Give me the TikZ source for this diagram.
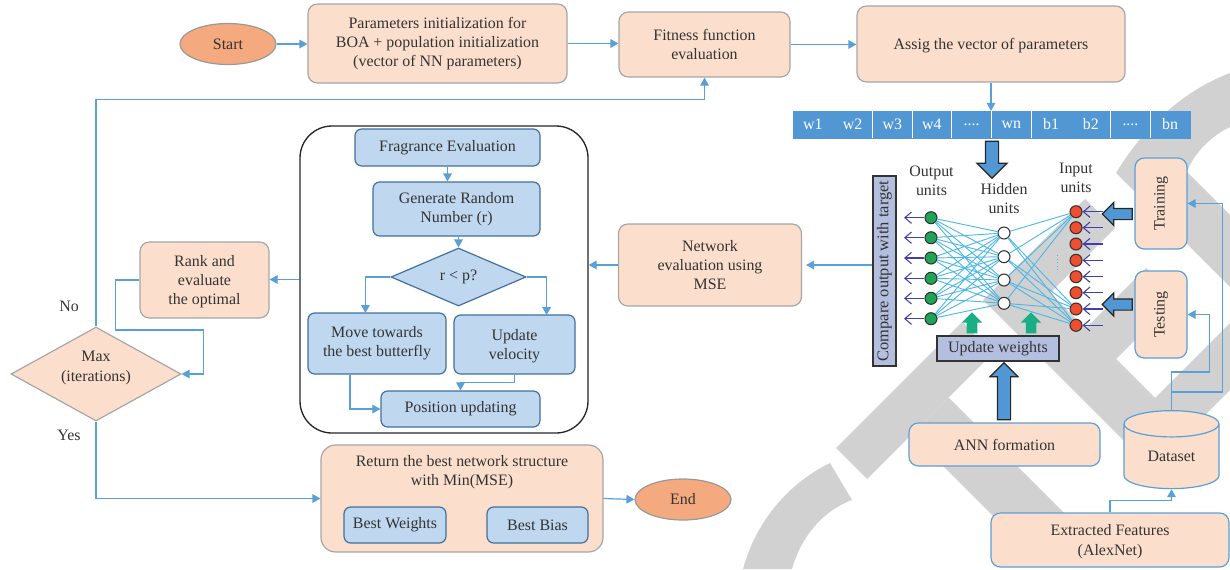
\documentclass[tikz,border=0pt]{standalone}
\usepackage{fontspec}
\setmainfont{Liberation Serif}
\usetikzlibrary{arrows.meta,shapes.geometric,shapes.arrows}
\definecolor{peach}{HTML}{FBDFCC}
\definecolor{orangefill}{HTML}{F4AA7E}
\definecolor{paleblue}{HTML}{BFD8F0}
\definecolor{lineblue}{HTML}{5B9FD8}
\definecolor{barblue}{HTML}{5097D3}
\definecolor{lilac}{HTML}{B4BFE0}
\definecolor{ink}{HTML}{333333}
\definecolor{wireblue}{HTML}{4DB8E6}
\definecolor{liftgreen}{HTML}{1AAE84}
\definecolor{outgreen}{HTML}{1FA354}
\definecolor{inred}{HTML}{F04E2E}
\definecolor{boxedge}{HTML}{41719C}
\newcommand{\fourdots}{.{}.{}.{}.}
\tikzset{
  every node/.style={font=\fontsize{11.95}{14.4}\selectfont, text=ink, align=center, inner sep=0pt},
  sized/.style 2 args={minimum width=#1*0.75pt, minimum height=#2*0.75pt},
  peachbox/.style={draw=black!35, line width=0.9pt, fill=peach, rounded corners=7pt},
  peachline/.style={draw=lineblue, line width=0.9pt, fill=peach, rounded corners=7pt},
  bluebox/.style={draw=boxedge, line width=0.9pt, fill=paleblue, rounded corners=5pt},
  lilacbox/.style={draw=black!80, line width=1pt, fill=lilac},
  terminal/.style={ellipse, draw=black!40, line width=0.9pt, fill=orangefill},
  flow/.style={draw=lineblue, line width=0.9pt, -{Triangle[length=6pt,width=6.5pt]}},
  wire/.style={draw=wireblue, line width=0.7pt},
  feed/.style={draw=blue!55!black!75, line width=0.8pt},
  unit/.style={circle, draw=black!80, line width=0.8pt, minimum size=9pt},
  fat/.style n args={3}{single arrow, draw=black!85, line width=0.9pt, fill=barblue,
    minimum height=#1*0.75pt, minimum width=#2*0.75pt, inner sep=#3*0.375pt,
    single arrow head extend=(#2-#3)*0.375pt},
  lift/.style n args={3}{single arrow, fill=liftgreen, shape border rotate=90,
    minimum height=#1*0.75pt, minimum width=#2*0.75pt, inner sep=#3*0.375pt,
    single arrow head extend=(#2-#3)*0.375pt},
}
\begin{document}
\begin{tikzpicture}[x=0.75pt, y=-0.75pt]
  \useasboundingbox (0,0) rectangle (1230,569);
  % watermark
  \fill[black!18] (836,448) -- (867,479) -- (993,353) -- (962,322) -- cycle;
  \fill[black!18] (1085,199) -- (1115,228) -- (1050,293) -- (1085.5,328.5) -- (1146,268)
     -- (1176.5,298.5) -- (1116,359) -- (1155,398) -- (1230,323) -- (1230,390)
     -- (1151.5,468.5) -- (983,300) -- cycle;
  \fill[black!18] (911.5,434.5) -- (948.5,397.5) -- (1075.5,524.5) -- (1038.5,561.5) -- cycle;
  \fill[black!18] (1116,173) .. controls (1145,125) and (1185,90) .. (1230,73) -- (1230,127)
     .. controls (1215,134) and (1195,150) .. (1187,172) -- (1230,215) -- (1230,287) -- cycle;
  \fill[black!18] (830,463) .. controls (785,485) and (755,525) .. (743,569) -- (792,569)
     .. controls (800,540) and (820,512) .. (852,500) -- cycle;

  % top row
  \node[terminal, sized={96}{41}] (start) at (228,44) {Start};
  \node[peachbox, sized={259}{79}] (params) at (437.5,43.5) {Parameters initialization for\\BOA + population initialization\\(vector of NN parameters)};
  \node[peachbox, sized={171}{65}] (fitness) at (704.5,44.5) {Fitness function\\evaluation};
  \node[peachbox, text depth=0pt, sized={268}{76}] (assig) at (991,44) {Assig the vector of parameters};
  \draw[flow] (start.east) -- (start.east -| params.west);
  \draw[flow] (params.east) -- (params.east -| fitness.west);
  \draw[flow] (fitness.east) -- (fitness.east -| assig.west);

  % parameter vector
  \foreach \lab [count=\i] in {w1,w2,w3,w4,\fourdots,wn,b1,b2,\fourdots,bn}
     {\pgfmathsetmacro{\cx}{793+39.7*(\i-0.5)}
      \node[fill=barblue, draw=barblue, line width=0.2pt, text=white, sized={39.7}{27}] (cell\i) at (\cx,124.5) {\lab};}
  \foreach \i in {2,3,4,5,6,8,9}
     {\draw[white, line width=0.8pt] (cell\i.north east) -- (cell\i.south east);}
  \draw[flow] (assig.south) -- (assig.south |- cell6.north);
  \node[fat={37}{29}{12}, shape border rotate=270] (vecarrow) at (992,156.5) {};

  % network
  \foreach \i/\y in {1/217.7,2/237.7,3/258,4/278.3,5/298.3,6/318.7}
     {\node[unit, fill=outgreen] (out\i) at (931,\y) {};
      \draw[feed, -{Straight Barb[length=5pt,width=8.5pt]}] (out\i) -- ++(-27,0);}
  \foreach \i/\y in {1/233,2/256.7,3/280,4/303.3}
     {\node[unit, fill=white, fill opacity=0.85] (hid\i) at (1004,\y) {};}
  \foreach \i/\y in {1/211.7,2/227.7,3/244,4/260.3,5/276.7,6/292.7,7/309,8/325.3}
     {\node[unit, fill=inred] (inp\i) at (1076,\y) {};
      \draw[feed, {Straight Barb[length=5pt,width=8.5pt]}-] (inp\i) -- ++(27,0);}
  \foreach \i in {1,...,6}
  \foreach \j in {1,...,4}
     {\draw[wire] (out\i) -- (hid\j);}
  \foreach \i in {1,7,8}
  \foreach \j in {1,...,4}
     {\draw[wire] (hid\j) -- (inp\i);}
  \coordinate (dotstop) at (1057,255);
  \coordinate (dotsend) at (1057,273);
  \draw[wire, dotted] (dotstop) -- (dotsend);
  \node (outlabel) at (931.5,181) {Output\\units};
  \node (hidlabel) at (1004,198.5) {Hidden\\units};
  \node (inplabel) at (1076,177.5) {Input\\units};

  \node[lilacbox, rotate=90, font=\fontsize{12.3}{14.4}\selectfont, sized={190}{23}] (compare) at (884.5,271) {Compare output with target};
  \node[lilacbox, sized={122}{25}] (update) at (998,348.5) {Update weights};
  \node[lift={21}{20}{10}] (liftA) at (972,325.5) {};
  \node[lift={21}{20}{10}] (liftB) at (1031,325.5) {};

  \node[peachline, sized={191}{43}] (ann) at (1004.5,444.5) {ANN formation};
  \node[fat={57}{27}{12}, shape border rotate=90] (annarrow) at (1004,394.5) {};
  \node[peachline, rotate=90, sized={91}{52}] (training) at (1161,203.5) {Training};
  \node[peachline, rotate=90, sized={87}{52}] (testing) at (1161,314.5) {Testing};
  \node[fat={30}{22}{10}, shape border rotate=180] (trainarrow) at (1120,214) {};
  \node[fat={30}{22}{10}, shape border rotate=180] (testarrow) at (1120,304.5) {};
  \node[cylinder, shape border rotate=90, aspect=0.55, draw=lineblue, line width=0.9pt, fill=peach,
        sized={95}{78}] (dataset) at (1171.5,456.5) {Dataset};
  \node[peachline, text depth=0pt, sized={238}{54}] (extracted) at (1110,540) {Extracted Features\\(AlexNet)};
  \draw[flow] (extracted.north) -- ++(0,-12) -| (dataset.south);
  \draw[flow] (dataset.north) |- ++(51,-18) |- (training.south);
  \draw[flow] (dataset.north) |- ++(38,-38) |- (testing.south);

  % evaluation
  \node[peachbox, sized={183}{82}] (network) at (710,265) {Network\\evaluation using\\MSE};
  \draw[flow] (compare.north |- network.east) -- ([xshift=3pt]network.east);

  % butterfly loop
  \node[draw=black!85, line width=1pt, fill=white, rounded corners=24pt, sized={288}{307}] (boa) at (444,279.5) {};
  \node[bluebox, sized={185}{37}] (fragrance) at (447.5,147.5) {Fragrance Evaluation};
  \node[bluebox, sized={167}{54}] (generate) at (456.5,209) {Generate Random\\Number (r)};
  \node[diamond, draw=boxedge, line width=0.9pt, fill=paleblue, aspect=2.3, sized={135}{58}] (decision) at (458.5,277) {r < p?};
  \node[bluebox, sized={138}{61}] (towards) at (377,343.5) {Move towards\\the best butterfly};
  \node[bluebox, text depth=0pt, sized={121}{59}] (velocity) at (514.5,344.5) {Update\\velocity};
  \node[bluebox, sized={159}{36}] (position) at (460.5,409) {Position updating};
  \draw[flow] (fragrance.south) -- (fragrance.south |- generate.north);
  \draw[flow] (decision.north |- generate.south) -- (decision.north);
  \draw[flow] (decision.west) -- ++(-25,0) -- ++(0,36);
  \draw[flow] (decision.east) -- ++(20,0) -- ++(0,38);
  \draw[flow] (towards.south) ++(-27,0) |- (position.west);
  \draw[flow] (velocity.south) -- ++(0,8) -| (position.north);

  % outer loop
  \node[peachbox, text depth=0pt, sized={129}{76}] (rank) at (204.5,280) {Rank and\\evaluate\\the optimal};
  \node[diamond, draw=black!35, line width=0.9pt, fill=peach, aspect=1.81, sized={170}{94}] (max) at (96,374) {};
  \node (maxtext) at (96,368) {Max\\(iterations)};
  \draw[flow] (network.west) -- (network.west -| boa.east);
  \draw[flow] (boa.west) -- (boa.west -| rank.east);
  \draw[flow] (rank.west) -- ++(-24,0) |- ++(88,50) |- (max.east);
  \draw[flow] (max.north) -- ++(0,-227) -| (fitness.south);
  \node (nolabel) at (69,306) {No};
  \node (yeslabel) at (69,435) {Yes};

  % result
  \node[peachbox, rounded corners=11pt, sized={282}{107}] (best) at (462,498.5) {};
  \node (besttext) at (462,472) {Return the best network structure\\with Min(MSE)};
  \node[bluebox, sized={102}{36}] (bestw) at (395,525) {Best Weights};
  \node[bluebox, sized={101}{36}] (bestb) at (537.5,525) {Best Bias};
  \node[terminal, sized={96}{41}] (end) at (683,499.5) {End};
  \draw[flow] (max.south) |- (best.west);
  \draw[flow] (best.east) -- (end.west);
\end{tikzpicture}
\end{document}
